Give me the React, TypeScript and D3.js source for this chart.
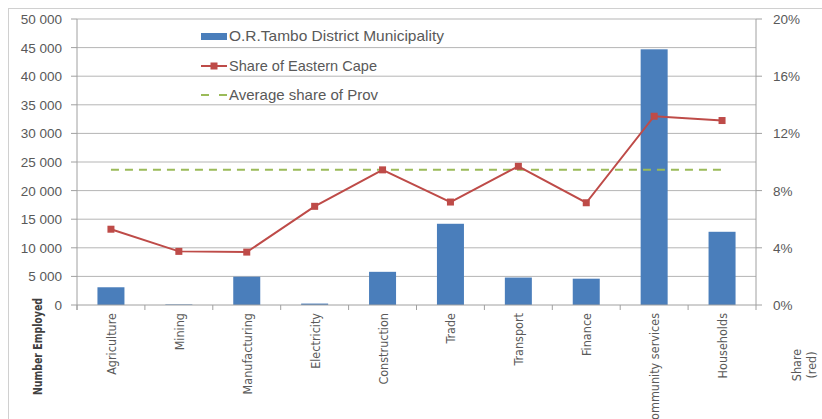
import React from "react";
import * as d3 from "d3";

const categories = ["Agriculture", "Mining", "Manufacturing", "Electricity", "Construction", "Trade", "Transport", "Finance", "Community services", "Households"];
const employed = [3100, 100, 4950, 250, 5800, 14200, 4800, 4600, 44700, 12800];
const shareEC = [5.3, 3.75, 3.7, 6.9, 9.45, 7.2, 9.7, 7.15, 13.2, 12.9];
const avgShare = 9.45;
const leftTicks = [0, 5000, 10000, 15000, 20000, 25000, 30000, 35000, 40000, 45000, 50000];
const rightTicks = [0, 4, 8, 12, 16, 20];

const W = 822, H = 419;
const L = 77, R = 756, T = 19, B = 305;
const font = "'Liberation Sans', Arial, sans-serif";
const cond = "'DejaVu Sans Condensed', 'DejaVu Sans', sans-serif";
const txt = "#595959";

export default function App() {
  const x = d3.scaleBand<string>().domain(categories).range([L, R]);
  const yL = d3.scaleLinear().domain([0, 50000]).range([B, T]);
  const yR = d3.scaleLinear().domain([0, 20]).range([B, T]);
  const fmt = (v: number) => d3.format(",")(v).replace(/,/g, " ");
  const cx = (c: string) => (x(c) as number) + x.bandwidth() / 2;
  const line = d3.line<number>().x((_, i) => cx(categories[i])).y((d) => yR(d));
  const bw = 27;
  return (
    <svg width={W} height={H} style={{ position: "absolute", left: 0, top: 0, background: "#fff" }}>
      <line x1={8} y1={8.5} x2={W} y2={8.5} stroke="#d0d0d0" />
      <line x1={8.5} y1={8} x2={8.5} y2={H} stroke="#d0d0d0" />
      {leftTicks.map((t) => (
        <g key={t}>
          {t > 0 && <line x1={L} x2={R} y1={yL(t)} y2={yL(t)} stroke="#b5b5b5" />}
          <line x1={L - 6} x2={L} y1={yL(t)} y2={yL(t)} stroke="#a0a0a0" />
          <text x={62} y={yL(t) + 5} textAnchor="end" fontFamily={font} fontSize={13.5} fill={txt}>{fmt(t)}</text>
        </g>
      ))}
      {rightTicks.map((t) => (
        <g key={t}>
          <line x1={R} x2={R + 6} y1={yR(t)} y2={yR(t)} stroke="#a0a0a0" />
          <text x={773} y={yR(t) + 5} fontFamily={font} fontSize={13.5} fill={txt}>{t}%</text>
        </g>
      ))}
      <line x1={L} x2={L} y1={T} y2={B + 5} stroke="#a0a0a0" />
      <line x1={R} x2={R} y1={T} y2={B + 5} stroke="#a0a0a0" />
      {categories.map((c, i) => (
        <g key={c}>
          <rect x={cx(c) - bw / 2} y={yL(employed[i])} width={bw} height={B - yL(employed[i])} fill="#4a7ebb" />
          <line x1={(x(c) as number)} x2={(x(c) as number)} y1={B} y2={B + 5} stroke="#a0a0a0" />
          <text transform={`translate(${cx(c) + 5},${B + 8}) rotate(-90)`} textAnchor="end" fontFamily={cond} fontSize={12.5} fill={txt}>{c}</text>
        </g>
      ))}
      <line x1={L} x2={R} y1={B} y2={B} stroke="#a0a0a0" />
      <line x1={cx(categories[0])} x2={cx(categories[categories.length - 1])} y1={yR(avgShare)} y2={yR(avgShare)} stroke="#9bbb59" strokeWidth={2} strokeDasharray="8 6" />
      <path d={line(shareEC) as string} fill="none" stroke="#be4b48" strokeWidth={2} />
      {shareEC.map((v, i) => (
        <rect key={i} x={cx(categories[i]) - 3.5} y={yR(v) - 3.5} width={7} height={7} fill="#be4b48" />
      ))}
      <g fontFamily={font} fontSize={14.5} fill={txt}>
        <rect x={201} y={33} width={26} height={7} fill="#4a7ebb" />
        <text x={229} y={41} textLength={215} lengthAdjust="spacingAndGlyphs">O.R.Tambo District Municipality</text>
        <line x1={201} x2={227} y1={66} y2={66} stroke="#be4b48" strokeWidth={2} />
        <rect x={210.5} y={62.5} width={7} height={7} fill="#be4b48" />
        <text x={229} y={71} textLength={148} lengthAdjust="spacingAndGlyphs">Share of Eastern Cape</text>
        <line x1={201} x2={227} y1={95} y2={95} stroke="#9bbb59" strokeWidth={2} strokeDasharray="8 10" />
        <text x={229} y={100} textLength={149} lengthAdjust="spacingAndGlyphs">Average share of Prov</text>
      </g>
      <text transform="translate(42,395) rotate(-90)" fontFamily={cond} fontSize={13} fontWeight="bold" fill="#404040" textLength={97} lengthAdjust="spacingAndGlyphs">Number Employed</text>
      <text transform="translate(801,365) rotate(-90)" textAnchor="middle" fontFamily={cond} fontSize={12.5} fill={txt}>Share</text>
      <text transform="translate(816,365) rotate(-90)" textAnchor="middle" fontFamily={cond} fontSize={12.5} fill={txt}>(red)</text>
    </svg>
  );
}
